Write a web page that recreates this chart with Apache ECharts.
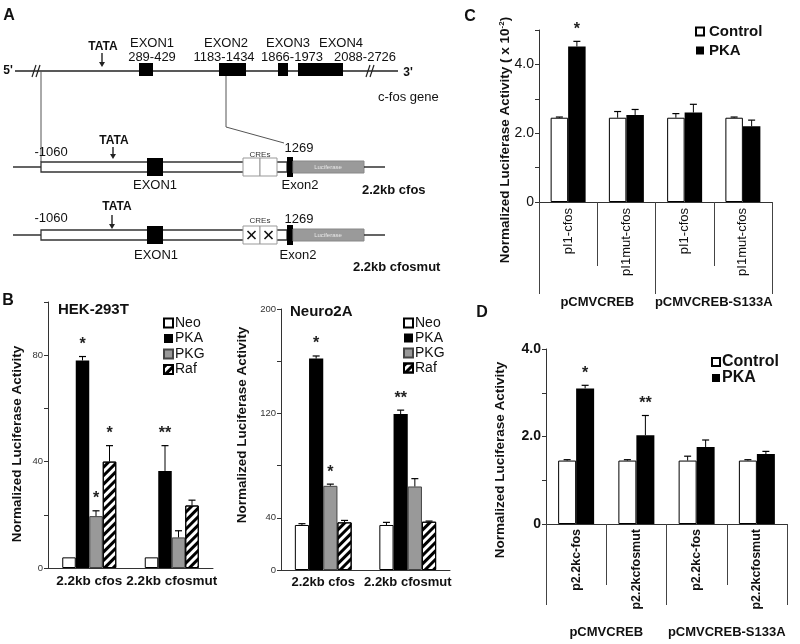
<!DOCTYPE html>
<html><head><meta charset="utf-8">
<script src="https://cdn.jsdelivr.net/npm/echarts@6/dist/echarts.min.js"></script>
<style>html,body{margin:0;padding:0;background:#fff}#c{width:800px;height:644px}</style>
</head><body><div id="c"></div>
<script>
// ===== Data =====
// Panel B (HEK-293T)
const hekCategories = ['2.2kb cfos', '2.2kb cfosmut'];
const hekNeo = [4, 4];
const hekPKA = [78, 36.5];
const hekPKG = [19.5, 11.5];
const hekRaf = [40, 23.5];
const hekNeoErr = [0, 0];
const hekPKAErr = [1.5, 9.5];
const hekPKGErr = [2, 2.5];
const hekRafErr = [6, 2];
const hekPKASig = ['*', '**'];
const hekPKGSig = ['*', ''];
const hekRafSig = ['*', ''];
const hekYLabels = [0, 40, 80];
// Panel B (Neuro2A)
const n2aCategories = ['2.2kb cfos', '2.2kb cfosmut'];
const n2aNeo = [34.5, 34.5];
const n2aPKA = [162, 119.5];
const n2aPKG = [64.5, 64];
const n2aRaf = [36.5, 37];
const n2aNeoErr = [1, 2];
const n2aPKAErr = [2, 3];
const n2aPKGErr = [1.3, 6];
const n2aRafErr = [1.5, 0.5];
const n2aPKASig = ['*', '**'];
const n2aPKGSig = ['*', ''];
const n2aYLabels = [0, 40, 120, 200];
// Panel C
const cCategories = ['pI1-cfos', 'pI1mut-cfos', 'pI1-cfos', 'pI1mut-cfos'];
const cGroups = ['pCMVCREB', 'pCMVCREB-S133A'];
const cControl = [2.45, 2.45, 2.45, 2.45];
const cControlErr = [0.02, 0.18, 0.12, 0.02];
const cPKA = [4.52, 2.53, 2.6, 2.2];
const cPKAErr = [0.15, 0.16, 0.24, 0.18];
const cPKASig = ['*', '', '', ''];
const cYLabels = [0, 2, 4];
// Panel D
const dCategories = ['p2.2kc-fos', 'p2.2kcfosmut', 'p2.2kc-fos', 'p2.2kcfosmut'];
const dGroups = ['pCMVCREB', 'pCMVCREB-S133A'];
const dControl = [1.45, 1.45, 1.45, 1.45];
const dControlErr = [0.02, 0.02, 0.1, 0.02];
const dPKA = [3.1, 2.03, 1.76, 1.6];
const dPKAErr = [0.07, 0.45, 0.16, 0.06];
const dPKASig = ['*', '**', '', ''];
const dYLabels = [0, 2, 4];

// ===== Styles =====
const FF = 'Liberation Sans, Arial, Helvetica, sans-serif';
const INK = '#111';
const sNeo = {color: '#fff', borderColor: '#000', borderWidth: 1};
const sPKA = {color: '#000'};
const sPKG = {color: '#999', borderColor: '#444', borderWidth: 1};
const sRaf = {color: '#fff', borderColor: '#000', borderWidth: 1,
  decal: {symbol: 'rect', symbolSize: 1, dashArrayX: [1, 0], dashArrayY: [2.2, 2.2], rotation: -Math.PI / 4, color: '#000'}};

function bars(xi, yi, name, data, style, bw) {
  return {type: 'bar', name, xAxisIndex: xi, yAxisIndex: yi, data, barWidth: bw, barGap: '0%',
    itemStyle: style, silent: true, z: 2};
}
function errs(xi, yi, idx, n, bw, vals, es, sigs) {
  return {
    type: 'custom', xAxisIndex: xi, yAxisIndex: yi, z: 5, silent: true,
    data: vals.map((v, i) => [i, v, es[i]]),
    renderItem(params, api) {
      const i = api.value(0), v = api.value(1), e = api.value(2);
      const sig = sigs ? sigs[params.dataIndex] : '';
      const base = api.coord([i, v]);
      const top = api.coord([i, v + e]);
      const x = base[0] + (idx - (n - 1) / 2) * bw;
      const ch = [];
      if (e > 0) {
        ch.push({type: 'line', shape: {x1: x, y1: base[1], x2: x, y2: top[1]}, style: {stroke: '#000', lineWidth: 1}});
        ch.push({type: 'line', shape: {x1: x - 3.5, y1: top[1], x2: x + 3.5, y2: top[1]}, style: {stroke: '#000', lineWidth: 1.2}});
      }
      if (sig) ch.push({type: 'text', x: x, y: top[1] - 4, style: {text: sig, fontSize: 16, fontWeight: 'bold', fontFamily: FF, align: 'center', verticalAlign: 'bottom', fill: '#222'}});
      return {type: 'group', children: ch};
    }
  };
}
function yAx(gi, max, interval, labels, fmt, font) {
  return {type: 'value', gridIndex: gi, min: 0, max, interval, splitLine: {show: false},
    axisLine: {show: true, lineStyle: {color: '#333', width: 1}},
    axisTick: {show: true, length: 4, lineStyle: {color: '#333'}},
    axisLabel: Object.assign({margin: 5, color: '#333', fontFamily: FF,
      formatter: v => labels.indexOf(v) >= 0 ? fmt(v) : ''}, font)};
}

// ===== Graphic helpers (panel A schematic & annotations) =====
const T = (text, x, y, o) => ({type: 'text', x, y, silent: true,
  style: Object.assign({text, fill: INK, fontSize: 13, fontFamily: FF, align: 'center', verticalAlign: 'middle'}, o || {})});
const L = (x1, y1, x2, y2, w, c) => ({type: 'line', silent: true, shape: {x1, y1, x2, y2}, style: {stroke: c || '#222', lineWidth: w || 1.4}});
const R = (x, y, w, h, fill, stroke, lw) => ({type: 'rect', silent: true, shape: {x, y, width: w, height: h}, style: {fill, stroke: stroke || null, lineWidth: lw || 1}});
const ARW = (x, y1, y2) => [L(x, y1, x, y2 - 3, 1.4), {type: 'polygon', silent: true, shape: {points: [[x - 3, y2 - 5], [x + 3, y2 - 5], [x, y2]]}, style: {fill: '#222'}}];
const VT = (text, x, y, o) => ({type: 'text', x, y, rotation: Math.PI / 2, silent: true,
  style: Object.assign({text, fontSize: 13.5, fontWeight: 'bold', fontFamily: FF, fill: INK, align: 'center', verticalAlign: 'middle'}, o || {})});

function construct(cy, mut) {
  const g = [];
  g.push(L(13, cy, 41, cy, 1.4));
  g.push(R(41, cy - 5, 246, 10, '#fff', '#333', 1.3));
  g.push(R(147, cy - 9, 16, 18, '#000'));
  g.push(R(243, cy - 9, 17, 18, '#fff', '#999', 1));
  g.push(R(260, cy - 9, 17, 18, '#fff', '#999', 1));
  if (mut) {
    [251.5, 268.5].forEach(cx => { g.push(L(cx - 4, cy - 4, cx + 4, cy + 4, 1.6, '#111')); g.push(L(cx - 4, cy + 4, cx + 4, cy - 4, 1.6, '#111')); });
  }
  g.push(R(287, cy - 10, 6, 20, '#000'));
  g.push(R(293, cy - 6, 71, 12, '#9a9a9a', '#888', 1));
  g.push(T('Luciferase', 328, cy, {fontSize: 6, fill: '#e8e8e8'}));
  g.push(L(364, cy, 385, cy, 1.4));
  return g;
}

const graphics = [
  // panel letters
  T('A', 9, 16, {fontSize: 16, fontWeight: 'bold'}),
  T('B', 8, 301, {fontSize: 16, fontWeight: 'bold'}),
  T('C', 470, 17, {fontSize: 16, fontWeight: 'bold'}),
  T('D', 482, 313, {fontSize: 16, fontWeight: 'bold'}),
  // gene line
  T("5'", 8, 71, {fontSize: 12, fontWeight: 'bold'}),
  L(15, 71, 398, 71, 1.4),
  L(32, 77, 36, 65, 1.2), L(36, 77, 40, 65, 1.2),
  L(366, 77, 370, 65, 1.2), L(370, 77, 374, 65, 1.2),
  T("3'", 408, 73, {fontSize: 12, fontWeight: 'bold'}),
  R(139, 63, 14, 13, '#000'), R(219, 63, 27, 13, '#000'), R(278, 63, 10, 13, '#000'), R(298, 63, 45, 13, '#000'),
  T('EXON1', 152, 43), T('289-429', 152, 57),
  T('EXON2', 226, 43), T('1183-1434', 224, 57),
  T('EXON3', 288, 43), T('1866-1973', 292, 57),
  T('EXON4', 341, 43), T('2088-2726', 365, 57),
  T('TATA', 103, 47, {fontSize: 12, fontWeight: 'bold'}),
  ...ARW(102, 53, 67),
  T('c-fos gene', 378, 97, {align: 'left'}),
  // connectors
  L(41, 71, 41, 162, 1, '#555'),
  {type: 'polyline', silent: true, shape: {points: [[226, 76], [226, 127], [284, 143]]}, style: {stroke: '#555', lineWidth: 1, fill: null}},
  // construct 1
  ...construct(167, false),
  T('-1060', 51, 152), T('TATA', 114, 141, {fontSize: 12, fontWeight: 'bold'}), ...ARW(113, 147, 159),
  T('CREs', 260, 155, {fontSize: 8, fill: '#333'}), T('1269', 299, 148),
  T('EXON1', 155, 185), T('Exon2', 300, 185),
  T('2.2kb cfos', 362, 190, {align: 'left', fontWeight: 'bold'}),
  // construct 2
  ...construct(235, true),
  T('-1060', 51, 218), T('TATA', 117, 207, {fontSize: 12, fontWeight: 'bold'}), ...ARW(112, 215, 229),
  T('CREs', 260, 221, {fontSize: 8, fill: '#333'}), T('1269', 299, 219),
  T('EXON1', 156, 255), T('Exon2', 298, 255),
  T('2.2kb cfosmut', 353, 267, {align: 'left', fontWeight: 'bold'}),
  // panel titles
  T('HEK-293T', 58, 310, {align: 'left', fontSize: 15, fontWeight: 'bold'}),
  T('Neuro2A', 290, 312, {align: 'left', fontSize: 15, fontWeight: 'bold'}),
  // y-axis names
  VT('Normalized Luciferase Activity', 17, 444),
  VT('Normalized Luciferase Activity', 242, 425),
  VT('Normalized Luciferase Activity ( x 10{s|-2})', 505, 140, {fontSize: 13.5,
    rich: {s: {fontSize: 8, fontWeight: 'bold', fontFamily: FF, fill: INK, verticalAlign: 'top', padding: [0, 0, 6, 0]}}}),
  VT('Normalized Luciferase Activity', 500, 460)
];

const BW1 = 13.5, BW2 = 14.2, BWC = 17.5, BWD = 18;

const option = {
  animation: false,
  backgroundColor: '#fff',
  textStyle: {fontFamily: FF},
  grid: [
    {left: 48, top: 302, width: 165, height: 266},
    {left: 281, top: 309, width: 169, height: 261},
    {left: 539, top: 30, width: 233, height: 172},
    {left: 546, top: 349, width: 241, height: 175}
  ],
  legend: [
    {left: 163, top: 316, orient: 'vertical', itemWidth: 9, itemHeight: 9, itemGap: 1.5, icon: 'rect', padding: 0, selectedMode: false,
      textStyle: {fontSize: 14, color: INK, padding: [0, 0, 0, -3]}, data: ['Neo', 'PKA', 'PKG', 'Raf']},
    {left: 403, top: 316, orient: 'vertical', itemWidth: 9, itemHeight: 9, itemGap: 1, icon: 'rect', padding: 0, selectedMode: false,
      textStyle: {fontSize: 14, color: INK, padding: [0, 0, 0, -3]}, data: ['Neo', 'PKA', 'PKG', 'Raf']},
    {left: 695, top: 24, orient: 'vertical', itemWidth: 8, itemHeight: 8, itemGap: 4, icon: 'rect', padding: 0, selectedMode: false,
      textStyle: {fontSize: 15, fontWeight: 'bold', color: INK}, data: ['Control', 'PKA']},
    {left: 711, top: 354, orient: 'vertical', itemWidth: 8, itemHeight: 8, itemGap: 0, icon: 'rect', padding: 0, selectedMode: false,
      textStyle: {fontSize: 16, fontWeight: 'bold', color: INK, padding: [0, 0, 0, -3]}, data: ['Control', 'PKA']}
  ],
  xAxis: [
    {type: 'category', gridIndex: 0, data: hekCategories, axisLine: {lineStyle: {color: '#333'}}, axisTick: {show: false},
      axisLabel: {margin: 6, fontSize: 13.5, fontWeight: 'bold', color: INK, interval: 0}},
    {type: 'category', gridIndex: 1, data: n2aCategories, axisLine: {lineStyle: {color: '#333'}}, axisTick: {show: false},
      axisLabel: {margin: 6, fontSize: 13, fontWeight: 'bold', color: INK, interval: 0}},
    {type: 'category', gridIndex: 2, position: 'bottom', data: cCategories, axisLine: {lineStyle: {color: '#333'}},
      axisTick: {show: true, interval: 0, length: 64, lineStyle: {color: '#444'}},
      axisLabel: {rotate: 90, margin: 6, fontSize: 13, color: INK, interval: 0}},
    {type: 'category', gridIndex: 2, position: 'bottom', data: cGroups, axisLine: {show: false},
      axisTick: {show: true, interval: 0, length: 92, lineStyle: {color: '#444'}},
      axisLabel: {margin: 94, fontSize: 13, fontWeight: 'bold', color: INK, interval: 0}},
    {type: 'category', gridIndex: 3, position: 'bottom', data: dCategories, axisLine: {lineStyle: {color: '#333'}},
      axisTick: {show: true, interval: 0, length: 61, lineStyle: {color: '#444'}},
      axisLabel: {rotate: 90, margin: 5, fontSize: 12.5, fontWeight: 'bold', color: INK, interval: 0}},
    {type: 'category', gridIndex: 3, position: 'bottom', data: dGroups, axisLine: {show: false},
      axisTick: {show: true, interval: 0, length: 81, lineStyle: {color: '#444'}},
      axisLabel: {margin: 102, fontSize: 13, fontWeight: 'bold', color: INK, interval: 0}}
  ],
  yAxis: [
    yAx(0, 100, 20, hekYLabels, v => String(v), {fontSize: 9.5}),
    yAx(1, 200, 40, n2aYLabels, v => String(v), {fontSize: 9.5}),
    yAx(2, 5, 1, cYLabels, v => v === 0 ? '0' : v.toFixed(1), {fontSize: 14, color: INK}),
    yAx(3, 4, 1, dYLabels, v => v === 0 ? '0' : v.toFixed(1), {fontSize: 14, fontWeight: 'bold', color: INK})
  ],
  series: [
    bars(0, 0, 'Neo', hekNeo, sNeo, BW1), bars(0, 0, 'PKA', hekPKA, sPKA, BW1),
    bars(0, 0, 'PKG', hekPKG, sPKG, BW1), bars(0, 0, 'Raf', hekRaf, sRaf, BW1),
    errs(0, 0, 0, 4, BW1, hekNeo, hekNeoErr, null), errs(0, 0, 1, 4, BW1, hekPKA, hekPKAErr, hekPKASig),
    errs(0, 0, 2, 4, BW1, hekPKG, hekPKGErr, hekPKGSig), errs(0, 0, 3, 4, BW1, hekRaf, hekRafErr, hekRafSig),

    bars(1, 1, 'Neo', n2aNeo, sNeo, BW2), bars(1, 1, 'PKA', n2aPKA, sPKA, BW2),
    bars(1, 1, 'PKG', n2aPKG, sPKG, BW2), bars(1, 1, 'Raf', n2aRaf, sRaf, BW2),
    errs(1, 1, 0, 4, BW2, n2aNeo, n2aNeoErr, null), errs(1, 1, 1, 4, BW2, n2aPKA, n2aPKAErr, n2aPKASig),
    errs(1, 1, 2, 4, BW2, n2aPKG, n2aPKGErr, n2aPKGSig), errs(1, 1, 3, 4, BW2, n2aRaf, n2aRafErr, null),

    bars(2, 2, 'Control', cControl, sNeo, BWC), bars(2, 2, 'PKA', cPKA, sPKA, BWC),
    errs(2, 2, 0, 2, BWC, cControl, cControlErr, null), errs(2, 2, 1, 2, BWC, cPKA, cPKAErr, cPKASig),

    bars(4, 3, 'Control', dControl, sNeo, BWD), bars(4, 3, 'PKA', dPKA, sPKA, BWD),
    errs(4, 3, 0, 2, BWD, dControl, dControlErr, null), errs(4, 3, 1, 2, BWD, dPKA, dPKAErr, dPKASig)
  ],
  graphic: graphics
};

const chart = echarts.init(document.getElementById('c'), null, {renderer: 'canvas'});
chart.setOption(option);
</script>
</body></html>
